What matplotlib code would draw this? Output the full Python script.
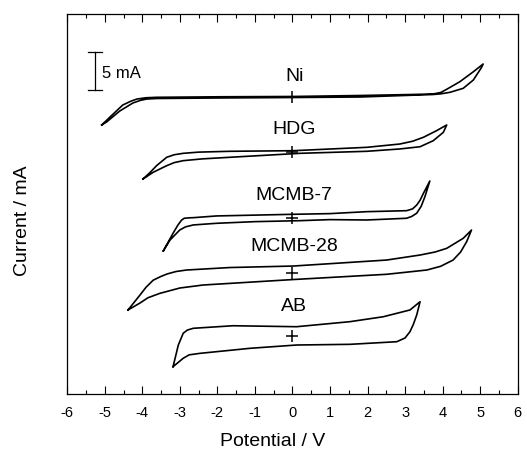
import matplotlib
matplotlib.use("Agg")
import matplotlib.pyplot as plt
import numpy as np

plt.rcParams['font.family'] = ['Liberation Sans', 'DejaVu Sans']

# ---- data: each CV loop as potential (V) / current (mA, relative to its zero mark) ----
labels = ["Ni", "HDG", "MCMB-7", "MCMB-28", "AB"]
offsets = [39.6, 32.2, 23.43, 16.13, 7.77]          # vertical stacking offsets (mA)
label_dy = [2.67, 3.13, 3.1, 3.6, 3.83]

ni_v = [-5.08, -4.86, -4.52, -4.30, -4.14, -3.90, -3.61, -1.93, 0.01, 1.80, 3.13, 3.74, 3.95, 4.11, 4.46, 4.82, 5.08,
        5.04, 4.82, 4.55, 4.20, 3.95, 3.74, 1.80, 0.01, -1.93, -3.61, -3.88, -4.05, -4.25, -4.60, -4.95, -5.08]
ni_i = [-3.73, -2.67, -1.07, -0.55, -0.27, -0.10, -0.04, 0.03, 0.07, 0.20, 0.33, 0.40, 0.60, 1.03, 2.04, 3.37, 4.40,
        3.96, 2.27, 1.16, 0.63, 0.42, 0.33, 0.00, -0.07, -0.13, -0.20, -0.27, -0.45, -0.80, -1.87, -3.33, -3.73]

hdg_v = [-3.98, -3.80, -3.62, -3.35, -3.15, -2.91, -2.50, -1.67, 0.02, 1.98, 2.86, 3.20, 3.49, 3.84, 4.11,
         4.02, 3.75, 3.40, 2.86, 1.98, 0.20, -1.67, -2.40, -2.91, -3.15, -3.35, -3.71, -3.98]
hdg_i = [-3.53, -2.70, -1.76, -0.64, -0.30, -0.11, 0.05, 0.16, 0.24, 0.69, 1.13, 1.50, 2.03, 2.91, 3.67,
         2.69, 1.57, 0.77, 0.47, 0.16, -0.11, -0.64, -0.85, -1.09, -1.35, -1.76, -2.64, -3.53]

m7_v = [-3.44, -3.18, -3.05, -2.95, -2.88, -2.75, -2.64, -2.02, -1.0, 0.02, 1.0, 1.98, 3.04, 3.20, 3.31, 3.40, 3.49, 3.66,
        3.53, 3.43, 3.31, 3.18, 3.04, 1.98, 1.0, 0.20, -1.0, -2.02, -2.64, -2.85, -3.00, -3.26, -3.44]
m7_i = [-4.36, -2.00, -0.90, -0.23, 0.00, 0.06, 0.08, 0.31, 0.42, 0.53, 0.62, 0.88, 1.01, 1.25, 1.76, 2.40, 3.33, 4.97,
        2.89, 1.60, 0.67, 0.25, 0.00, -0.23, -0.18, -0.32, -0.45, -0.67, -0.89, -1.15, -1.56, -2.89, -4.36]

m28_v = [-4.38, -4.06, -3.90, -3.71, -3.50, -3.34, -3.10, -2.82, -1.67, 0.02, 2.51, 3.40, 3.80, 4.11, 4.55, 4.77,
         4.64, 4.48, 4.28, 3.95, 3.58, 2.51, 0.02, -2.38, -3.00, -3.53, -3.85, -4.06, -4.38]
m28_i = [-4.93, -2.93, -1.90, -0.96, -0.45, -0.13, 0.20, 0.40, 0.73, 0.93, 1.73, 2.40, 2.80, 3.29, 4.63, 5.73,
         4.17, 2.80, 1.73, 0.90, 0.40, -0.17, -0.87, -1.60, -2.00, -2.71, -3.30, -4.00, -4.93]

ab_v = [-3.18, -3.04, -2.91, -2.80, -2.64, -1.58, 0.11, 1.53, 2.42, 3.13, 3.40,
        3.31, 3.22, 3.13, 3.00, 2.78, 1.53, 0.11, -1.13, -2.46, -2.75, -2.91, -3.18]
ab_i = [-4.13, -1.25, 0.32, 0.75, 0.99, 1.33, 1.20, 1.87, 2.53, 3.43, 4.53,
        2.75, 1.50, 0.53, -0.30, -0.80, -1.15, -1.24, -1.68, -2.35, -2.55, -3.01, -4.13]

curves_v = [ni_v, hdg_v, m7_v, m28_v, ab_v]
curves_i = [ni_i, hdg_i, m7_i, m28_i, ab_i]

xticks = list(range(-6, 7))
scale_mA = 5

# ---- figure ----
fig = plt.figure(figsize=(5.27, 4.54), dpi=100)
ax = fig.add_axes([0.1275, 0.1322, 0.8548, 0.8370])

for v, i, off, lab, dy in zip(curves_v, curves_i, offsets, labels, label_dy):
    ax.plot(v, np.array(i) + off, color='black', lw=1.2, solid_joinstyle='round')
    ax.plot([0], [off], marker='+', color='black', ms=8, mew=1.1)
    ax.text(0.05, off + dy, lab, ha='center', va='center', fontsize=14)

# scale bar
sb_x, sb_y0 = -5.26, 40.6
ax.plot([sb_x, sb_x], [sb_y0, sb_y0 + scale_mA], color='black', lw=0.9)
ax.plot([sb_x - 0.19, sb_x + 0.19], [sb_y0, sb_y0], color='black', lw=0.9)
ax.plot([sb_x - 0.19, sb_x + 0.19], [sb_y0 + scale_mA] * 2, color='black', lw=0.9)
ax.text(-5.06, 42.7, "5 mA", ha='left', va='center', fontsize=12)

ax.set_xlim(-6, 6)
ax.set_ylim(0, 50.67)
ax.set_xticks(xticks)
ax.set_xticklabels([str(t) for t in xticks], fontsize=10.5)
ax.set_xticks(np.arange(-5.5, 6, 1.0), minor=True)
ax.set_yticks([])
ax.tick_params(axis='x', which='major', direction='in', length=6, width=0.8,
               top=True, bottom=True, pad=9)
ax.tick_params(axis='x', which='minor', direction='in', length=3, width=0.8,
               top=True, bottom=True)
for s in ax.spines.values():
    s.set_linewidth(0.9)

fig.text(0.5165, 0.0265, "Potential / V", ha='center', va='center', fontsize=14)
fig.text(0.042, 0.515, "Current / mA", ha='center', va='center', fontsize=14, rotation=90)

fig.savefig("out.png", dpi=100)
